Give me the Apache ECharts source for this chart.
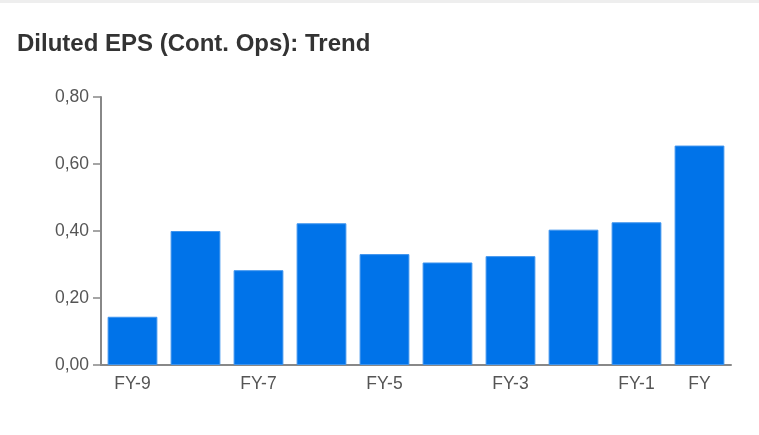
<!DOCTYPE html>
<html>
<head>
<meta charset="utf-8">
<style>
  html, body { margin: 0; padding: 0; background: #fff; }
  #topbar { position: absolute; left: 0; top: 0; width: 759px; height: 3px; background: #eeeeee; }
  #chart { position: absolute; left: 0; top: 0; width: 759px; height: 435px; }
</style>
<script src="https://cdn.jsdelivr.net/npm/echarts@6/dist/echarts.min.js"></script>
</head>
<body>
<div id="chart"></div>
<div id="topbar"></div>
<script>
const categories = ['FY-9', 'FY-8', 'FY-7', 'FY-6', 'FY-5', 'FY-4', 'FY-3', 'FY-2', 'FY-1', 'FY'];
const epsValues = [0.144, 0.400, 0.283, 0.423, 0.331, 0.306, 0.325, 0.404, 0.426, 0.655];
const shownLabels = ['FY-9', 'FY-7', 'FY-5', 'FY-3', 'FY-1', 'FY'];
const titleText = 'Diluted EPS (Cont. Ops): Trend';

const chart = echarts.init(document.getElementById('chart'), null, { renderer: 'canvas' });
chart.setOption({
  animation: false,
  title: {
    text: titleText,
    left: 17, top: 32, padding: 0,
    textStyle: { fontFamily: 'Liberation Sans, Arial, sans-serif', fontSize: 24, fontWeight: 'bold', color: '#333333' }
  },
  grid: { left: 101, right: 28, top: 97, bottom: 70, containLabel: false },
  xAxis: {
    type: 'category',
    data: categories,
    axisLine: { lineStyle: { color: '#888888', width: 2 } },
    axisTick: { show: false },
    axisLabel: {
      interval: 0,
      formatter: function (v) { return shownLabels.indexOf(v) >= 0 ? v : ''; },
      color: '#555555', fontSize: 17.5, margin: 10,
      fontFamily: 'Liberation Sans, Arial, sans-serif'
    }
  },
  yAxis: {
    type: 'value',
    min: 0, max: 0.8, interval: 0.2,
    axisLine: { show: true, lineStyle: { color: '#888888', width: 2 } },
    axisTick: { show: true, length: 8, lineStyle: { color: '#888888', width: 1.5 } },
    splitLine: { show: false },
    axisLabel: {
      formatter: function (v) { return v.toFixed(2).replace('.', ','); },
      color: '#555555', fontSize: 17.5, margin: 12,
      fontFamily: 'Liberation Sans, Arial, sans-serif'
    }
  },
  series: [{
    type: 'bar',
    data: epsValues,
    barCategoryGap: '21%',
    itemStyle: { color: '#0073e9', borderColor: '#3e94ee', borderWidth: 1 }
  }]
});
</script>
</body>
</html>
